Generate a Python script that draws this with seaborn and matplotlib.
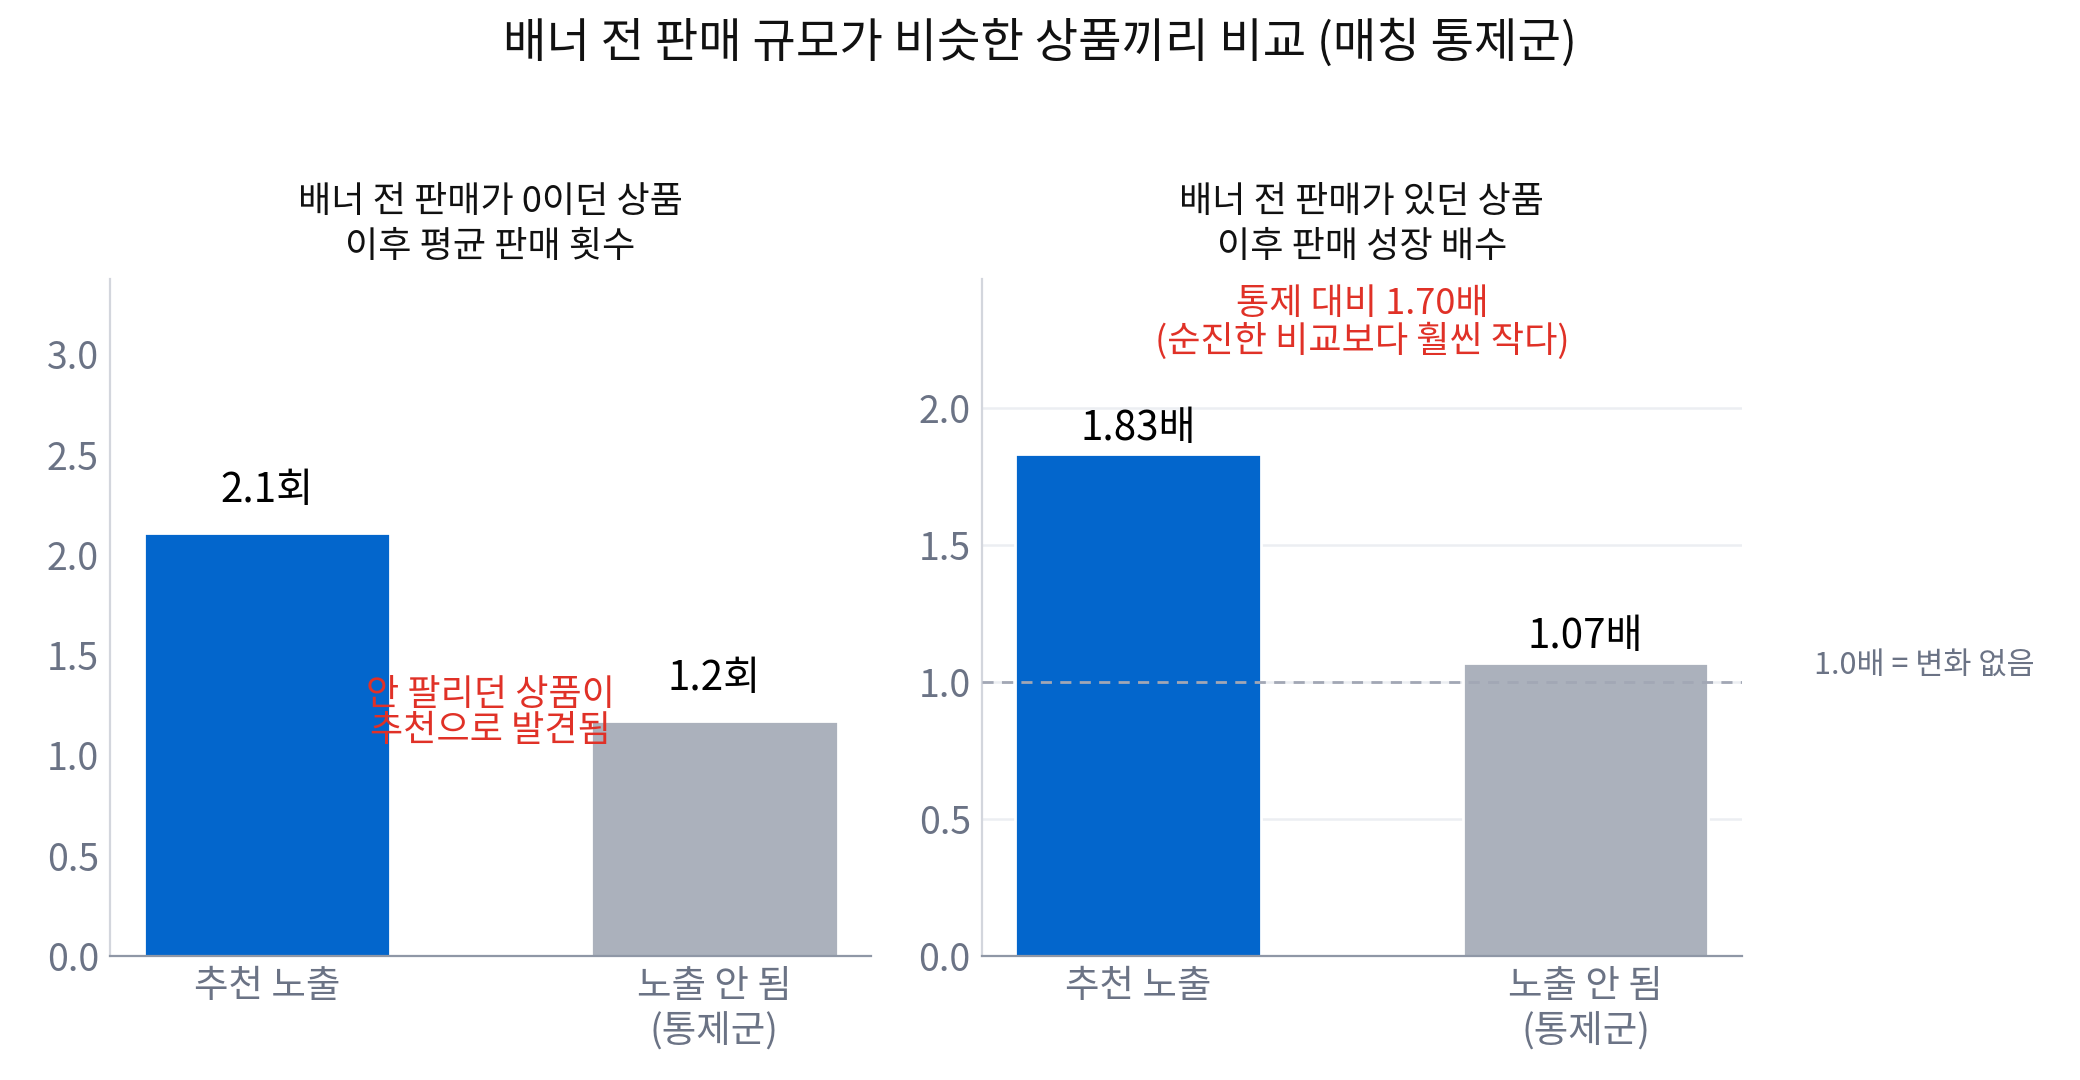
import matplotlib
matplotlib.use("Agg")
import matplotlib.pyplot as plt
import seaborn as sns
import pandas as pd

# data
groups = ["추천 노출", "노출 안 됨\n(통제군)"]
zero_sales_avg = [2.11, 1.17]
zero_sales_labels = ["2.1회", "1.2회"]
growth_ratio = [1.83, 1.07]
growth_labels = ["1.83배", "1.07배"]
bar_colors = ["#0366cc", "#abb1bc"]

sns.set_theme(style="white")
plt.rcParams['font.family'] = ['Noto Sans CJK KR', 'DejaVu Sans']

TICK_COLOR = "#6b7385"
RED = "#e03127"

fig = plt.figure(figsize=(10.4, 5.4), dpi=200)
ax1 = fig.add_axes([0.0529, 0.1148, 0.3659, 0.6269])
ax2 = fig.add_axes([0.4721, 0.1148, 0.3654, 0.6269])


def style_axes(ax, ymax, grid):
    ax.set_xlim(-0.35, 1.35)
    ax.set_ylim(0, ymax)
    ax.set_xlabel("")
    ax.set_ylabel("")
    for s in ["top", "right"]:
        ax.spines[s].set_visible(False)
    ax.spines["left"].set_color("#d3d6dd")
    ax.spines["bottom"].set_color("#8f97a6")
    ax.spines["left"].set_linewidth(0.8)
    ax.spines["bottom"].set_linewidth(0.8)
    ax.tick_params(axis="both", length=0, labelsize=13.5, colors=TICK_COLOR, pad=4)
    if grid:
        ax.yaxis.grid(True, color="#eceef2", linewidth=0.9)
        ax.set_axisbelow(True)
    else:
        ax.yaxis.grid(False)
    ax.xaxis.grid(False)


# left panel
df1 = pd.DataFrame({"group": groups, "value": zero_sales_avg})
sns.barplot(data=df1, x="group", y="value", hue="group", palette=bar_colors,
            width=0.55, dodge=False, legend=False, saturation=1, ax=ax1)
style_axes(ax1, max(zero_sales_avg) * 1.6, grid=False)
ax1.set_yticks([0, 0.5, 1.0, 1.5, 2.0, 2.5, 3.0])
ax1.set_yticklabels(["0.0", "0.5", "1.0", "1.5", "2.0", "2.5", "3.0"])
for i, (v, lab) in enumerate(zip(zero_sales_avg, zero_sales_labels)):
    ax1.text(i, v + 0.11, lab, ha="center", va="bottom", fontsize=14.5, color="black")
ax1.text(0.5, 1.21, "안 팔리던 상품이\n추천으로 발견됨", ha="center", va="center",
         fontsize=13, color=RED, linespacing=1.0)
ax1.set_title("배너 전 판매가 0이던 상품\n이후 평균 판매 횟수", fontsize=13,
              color="#111111", pad=8, linespacing=1.3)

# right panel
df2 = pd.DataFrame({"group": groups, "value": growth_ratio})
sns.barplot(data=df2, x="group", y="value", hue="group", palette=bar_colors,
            width=0.55, dodge=False, legend=False, saturation=1, ax=ax2)
style_axes(ax2, max(growth_ratio) * 1.35, grid=True)
ax2.set_yticks([0, 0.5, 1.0, 1.5, 2.0])
ax2.set_yticklabels(["0.0", "0.5", "1.0", "1.5", "2.0"])
ax2.axhline(1.0, color="#a2a7b5", linestyle=(0, (4, 3)), linewidth=1.0, zorder=3)
ax2.text(1.51, 1.06, "1.0배 = 변화 없음", ha="left", va="center", fontsize=11,
         color=TICK_COLOR, clip_on=False)
for i, (v, lab) in enumerate(zip(growth_ratio, growth_labels)):
    ax2.text(i, v + 0.02, lab, ha="center", va="bottom", fontsize=14.5, color="black")
ax2.text(0.5, 2.31, "통제 대비 1.70배\n(순진한 비교보다 훨씬 작다)", ha="center", va="center",
         fontsize=13, color=RED, linespacing=1.05)
ax2.set_title("배너 전 판매가 있던 상품\n이후 판매 성장 배수", fontsize=13,
              color="#111111", pad=8, linespacing=1.3)

fig.suptitle("배너 전 판매 규모가 비슷한 상품끼리 비교 (매칭 통제군)", fontsize=17,
             y=0.982, color="#111111")

fig.savefig("out.png", dpi=200)
